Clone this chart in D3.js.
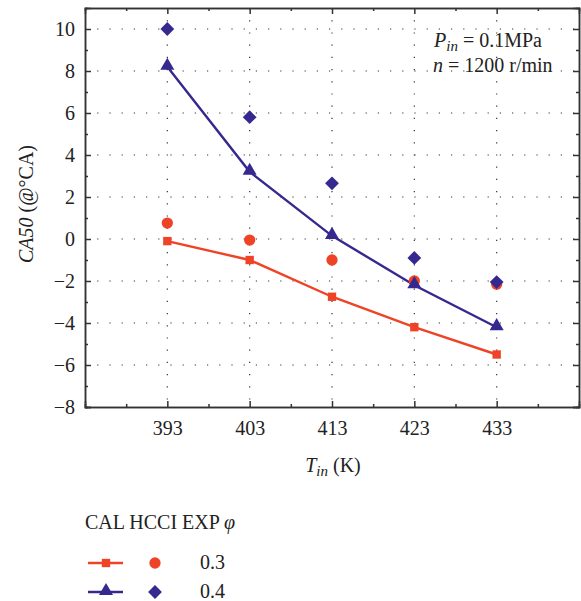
<!DOCTYPE html>
<html>
<head>
<meta charset="utf-8">
<script src="https://cdn.jsdelivr.net/npm/d3@7"></script>
<style>
  body { margin: 0; background: #fff; }
  svg text { font-family: "Liberation Serif", "Times New Roman", serif !important; fill: #222; }
</style>
</head>
<body>
<div id="chart"></div>
<script>
var temps = [393, 403, 413, 423, 433];
var cal03 = [-0.1, -1.0, -2.75, -4.2, -5.5];
var exp03 = [0.76, -0.05, -1.0, -2.0, -2.15];
var cal04 = [8.2, 3.2, 0.15, -2.2, -4.2];
var exp04 = [10.0, 5.8, 2.65, -0.9, -2.05];
var yTicks = [-8, -6, -4, -2, 0, 2, 4, 6, 8, 10];
var legendLabels = ["0.3", "0.4"];

var red = "#ef4327";
var blue = "#35298f";
var fs = "20px";

var svgWidth = 581;
var svgHeight = 601;
var margin = { top: 8, right: 2, bottom: 194, left: 85 };
var width = svgWidth - margin.left - margin.right;
var height = svgHeight - margin.top - margin.bottom;

var svg = d3.select("#chart")
  .append("svg")
  .attr("width", svgWidth)
  .attr("height", svgHeight)
  .attr("font-family", "Liberation Serif, serif");

var chartGroup = svg.append("g")
  .attr("transform", `translate(${margin.left}, ${margin.top})`);

var x = d3.scaleLinear().domain([383, 443]).range([0, width]);
var y = d3.scaleLinear().domain([-8, 11]).range([height, 0]);

// dotted grid
chartGroup.selectAll(".gx").data(temps).enter().append("line")
  .attr("x1", d => x(d)).attr("x2", d => x(d))
  .attr("y1", 0).attr("y2", height)
  .attr("stroke", "#333").attr("stroke-width", 1.2)
  .attr("stroke-dasharray", "1.2,11");
chartGroup.selectAll(".gy").data(yTicks.filter(d => d > -8)).enter().append("line")
  .attr("x1", 0).attr("x2", width)
  .attr("y1", d => y(d)).attr("y2", d => y(d))
  .attr("stroke", "#333").attr("stroke-width", 1.2)
  .attr("stroke-dasharray", "1.2,11");

var xMinor = d3.range(388, 443, 10);
var yMinor = d3.range(-7, 11, 2);

function axisStyle(g) {
  g.attr("font-family", null).attr("font-size", null);
  g.select(".domain").attr("stroke", "#333").attr("stroke-width", 1.5);
  g.selectAll(".tick line").attr("stroke", "#333").attr("stroke-width", 1.5);
  g.selectAll("text").attr("font-size", fs).attr("fill", "#222");
}

// bottom axis
chartGroup.append("g")
  .attr("transform", `translate(0, ${height})`)
  .call(d3.axisBottom(x).tickValues(temps).tickSize(-6).tickPadding(14).tickFormat(d3.format("d")))
  .call(axisStyle);
chartGroup.append("g")
  .attr("transform", `translate(0, ${height})`)
  .call(d3.axisBottom(x).tickValues(xMinor).tickSize(-3).tickFormat(""))
  .call(axisStyle);
// top axis
chartGroup.append("g")
  .call(d3.axisTop(x).tickValues(temps).tickSize(-6).tickFormat(""))
  .call(axisStyle);
chartGroup.append("g")
  .call(d3.axisTop(x).tickValues(xMinor).tickSize(-3).tickFormat(""))
  .call(axisStyle);
// left axis
chartGroup.append("g")
  .call(d3.axisLeft(y).tickValues(yTicks).tickSize(-6).tickPadding(10).tickFormat(d => d < 0 ? "\u2212" + Math.abs(d) : d))
  .call(axisStyle);
chartGroup.append("g")
  .call(d3.axisLeft(y).tickValues(yMinor).tickSize(-3).tickFormat(""))
  .call(axisStyle);
// right axis
chartGroup.append("g")
  .attr("transform", `translate(${width}, 0)`)
  .call(d3.axisRight(y).tickValues(yTicks).tickSize(-6).tickFormat(""))
  .call(axisStyle);
chartGroup.append("g")
  .attr("transform", `translate(${width}, 0)`)
  .call(d3.axisRight(y).tickValues(yMinor).tickSize(-3).tickFormat(""))
  .call(axisStyle);

// lines
var line = d3.line().x(d => x(d[0])).y(d => y(d[1]));
chartGroup.append("path")
  .datum(d3.zip(temps, cal03))
  .attr("d", line).attr("fill", "none")
  .attr("stroke", red).attr("stroke-width", 2.4);
chartGroup.append("path")
  .datum(d3.zip(temps, cal04))
  .attr("d", line).attr("fill", "none")
  .attr("stroke", blue).attr("stroke-width", 2.4);

var sq = d3.symbol().type(d3.symbolSquare).size(70);
var tri = d3.symbol().type(d3.symbolTriangle).size(85);
var circ = d3.symbol().type(d3.symbolCircle).size(100);
var dia = d3.symbol().type(d3.symbolSquare).size(95);

chartGroup.selectAll(".c3").data(d3.zip(temps, cal03)).enter().append("path")
  .attr("d", sq).attr("fill", red)
  .attr("transform", d => `translate(${x(d[0])},${y(d[1])})`);
chartGroup.selectAll(".e3").data(d3.zip(temps, exp03)).enter().append("path")
  .attr("d", circ).attr("fill", red)
  .attr("transform", d => `translate(${x(d[0])},${y(d[1])})`);
chartGroup.selectAll(".c4").data(d3.zip(temps, cal04)).enter().append("path")
  .attr("d", tri).attr("fill", blue)
  .attr("transform", d => `translate(${x(d[0])},${y(d[1]) - 1})`);
chartGroup.selectAll(".e4").data(d3.zip(temps, exp04)).enter().append("path")
  .attr("d", dia).attr("fill", blue)
  .attr("transform", d => `translate(${x(d[0])},${y(d[1])}) rotate(45)`);

// annotation
var ann = chartGroup.append("text")
  .attr("x", 349).attr("y", 39)
  .attr("font-size", fs);
ann.append("tspan").attr("font-style", "italic").text("P");
ann.append("tspan").attr("font-style", "italic").attr("font-size", "15px").attr("dy", 4).text("in");
ann.append("tspan").attr("dy", -4).text(" = 0.1MPa");
var ann2 = chartGroup.append("text")
  .attr("x", 348).attr("y", 64)
  .attr("font-size", fs);
ann2.append("tspan").attr("font-style", "italic").text("n");
ann2.append("tspan").text(" = 1200 r/min");

// axis titles
var xt = svg.append("text")
  .attr("x", 333).attr("y", 472)
  .attr("text-anchor", "middle").attr("font-size", fs);
xt.append("tspan").attr("font-style", "italic").text("T");
xt.append("tspan").attr("font-style", "italic").attr("font-size", "15px").attr("dy", 4).text("in");
xt.append("tspan").attr("dy", -4).text(" (K)");

var yt = svg.append("text")
  .attr("transform", "translate(33, 204) rotate(-90)")
  .attr("text-anchor", "middle").attr("font-size", fs);
yt.append("tspan").attr("font-style", "italic").text("CA50");
yt.append("tspan").text(" (@°CA)");

// legend
var lg = svg.append("g");
var lt = lg.append("text").attr("x", 85).attr("y", 529).attr("font-size", fs);
lt.append("tspan").text("CAL HCCI EXP ");
lt.append("tspan").attr("font-style", "italic").text("φ");

var legendRows = [
  { color: red, calSym: sq, expSym: circ, rot: 0 },
  { color: blue, calSym: tri, expSym: dia, rot: 45 }
];
legendRows.forEach(function(r, i) {
  var yy = 563 + i * 29;
  lg.append("line").attr("x1", 88).attr("x2", 123).attr("y1", yy).attr("y2", yy)
    .attr("stroke", r.color).attr("stroke-width", 2.4);
  lg.append("path").attr("d", r.calSym).attr("fill", r.color)
    .attr("transform", `translate(106,${yy - (i ? 1 : 0)})`);
  lg.append("path").attr("d", r.expSym).attr("fill", r.color)
    .attr("transform", `translate(155,${yy}) rotate(${r.rot})`);
  lg.append("text").attr("x", 200).attr("y", yy + 6).attr("font-size", fs)
    .text(legendLabels[i]);
});
</script>
</body>
</html>
